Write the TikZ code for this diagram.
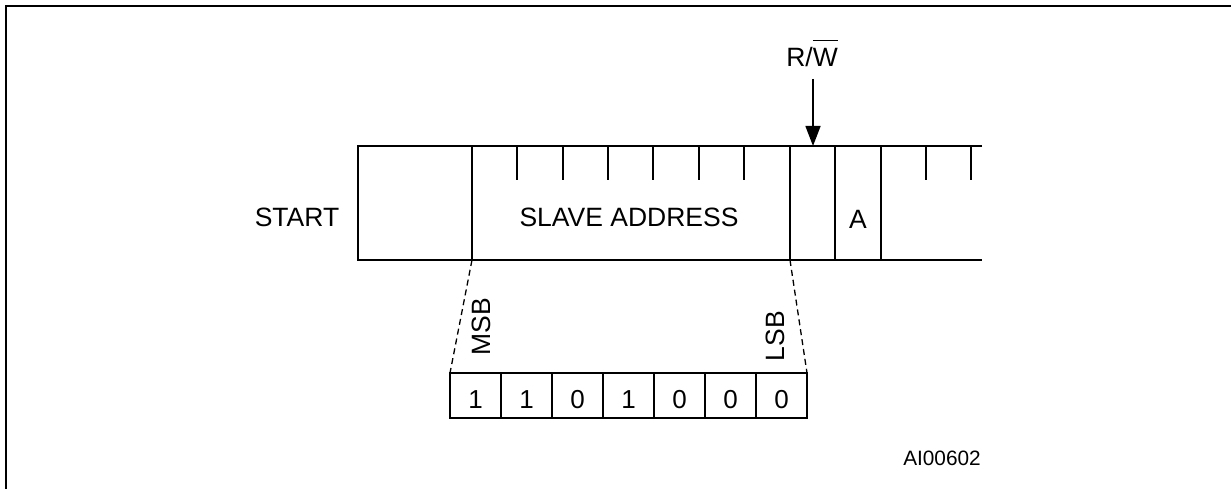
\documentclass[tikz,border=0pt]{standalone}
\usepackage{fontspec}
\setmainfont{Liberation Sans}
\usetikzlibrary{arrows.meta}
\begin{document}
\begin{tikzpicture}[x=1pt,y=-1pt,
  frameline/.style={line width=2.3pt},
  bandline/.style={line width=2.3pt},
  tickline/.style={line width=2.3pt},
  guideline/.style={line width=1.3pt,dash pattern=on 6pt off 4pt},
  lbl/.style={font=\fontsize{26.5}{31}\selectfont,inner sep=0pt},
  small/.style={font=\fontsize{20.8}{25}\selectfont,inner sep=0pt},
  bitcell/.style={draw,line width=2.3pt,minimum width=51pt,minimum height=45pt,
    inner sep=0pt,outer sep=0pt,text height=25.5pt,text depth=0pt,
    font=\fontsize{26}{31}\selectfont}]
\useasboundingbox (0,0) rectangle (1231,489);
% frame
\draw[frameline] (6,489) -- (6,6) -- (1231,6);
% band
\coordinate (bandTR) at (982,146);
\coordinate (bandBR) at (982,260);
\draw[bandline] (bandTR) -- (358,146) -- (358,260) -- (bandBR);
\coordinate (saL) at (472,260);
\coordinate (saR) at (790,260);
\draw[bandline] (472,146) -- (saL);
\draw[bandline] (790,146) -- (saR);
\draw[bandline] (835,146) -- (835,260);
\draw[bandline] (881,146) -- (881,260);
% ticks
\foreach \x in {517,563,608,653,699,744,926,971}
  \draw[tickline] (\x,146) -- (\x,180);
% labels in band
\node[lbl] (start) at (297,217) {START};
\node[lbl] (slave) at (629,217) {SLAVE ADDRESS};
\node[lbl] (ack) at (858,219) {A};
% R/W arrow
\node[lbl,anchor=base] (rw) at (812,67) {R/$\overline{\mbox{W}\vphantom{\rule{0pt}{25pt}}}$};
\coordinate (rwTop) at (813,79);
\coordinate (rwBit) at (813,146);
\draw[line width=1.4pt,-{Triangle[length=20pt,width=15pt]}] (rwTop) -- (rwBit);
% bit cells
\foreach \v [count=\i] in {1,1,0,1,0,0,0}
  \node[bitcell] (b\i) at ({450+25.5+51*(\i-1)},395.5) {\v};
% dashed guides
\draw[guideline] (saL) -- (b1.north west);
\draw[guideline] (saR) -- (b7.north east);
\node[lbl,rotate=90] (msb) at (481,327) {MSB};
\node[lbl,rotate=90] (lsb) at (775,336) {LSB};
% figure id
\node[small] (fid) at (942,458.5) {AI00602};
\end{tikzpicture}
\end{document}
